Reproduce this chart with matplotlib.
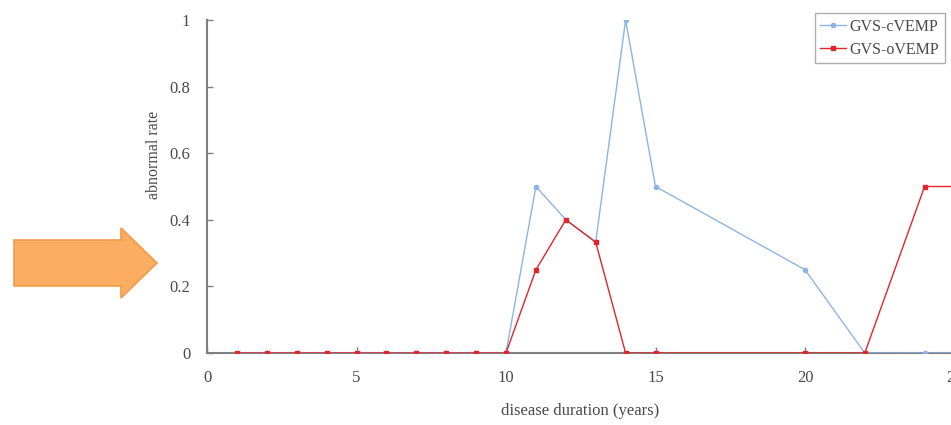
import matplotlib.pyplot as plt
from matplotlib.patches import FancyArrow

# --- data ---
years_c = [1, 2, 3, 4, 5, 6, 7, 8, 9, 10, 11, 12, 13, 14, 15, 20, 22, 24, 25]
rate_c = [0, 0, 0, 0, 0, 0, 0, 0, 0, 0, 0.5, 0.4, 0.333, 1.0, 0.5, 0.25, 0, 0, 0]

years_o = [1, 2, 3, 4, 5, 6, 7, 8, 9, 10, 11, 12, 13, 14, 15, 20, 22, 24, 25]
rate_o = [0, 0, 0, 0, 0, 0, 0, 0, 0, 0, 0.25, 0.4, 0.333, 0, 0, 0, 0, 0.5, 0.5]

y_ticks = [0, 0.2, 0.4, 0.6, 0.8, 1]
y_tick_labels = ["0", "0.2", "0.4", "0.6", "0.8", "1"]
x_ticks = [0, 5, 10, 15, 20, 25]

plt.rcParams['font.family'] = ['Liberation Serif', 'DejaVu Serif']

W, H = 951, 425
fig = plt.figure(figsize=(W / 100, H / 100), dpi=100)

# axes extends past the right edge (the reference is cropped there)
left_px, right_px = 207, 207 + 30 * 29.9
top_px, bottom_px = 20, 353
ax = fig.add_axes([left_px / W, 1 - bottom_px / H,
                   (right_px - left_px) / W, (bottom_px - top_px) / H])

blue = '#8db4e6'
red = '#e0262b'
ax.plot(years_c, rate_c, '-o', color=blue, lw=1.0, ms=3, label='GVS-cVEMP', zorder=3)
ax.plot(years_o, rate_o, '-s', color=red, lw=1.0, ms=3.5, label='GVS-oVEMP', zorder=4)

ax.set_xlim(0, 30)
ax.set_ylim(0, 1)
ax.set_xticks(x_ticks)
ax.set_yticks(y_ticks)
ax.set_yticklabels(y_tick_labels)

for s in ['top', 'right']:
    ax.spines[s].set_visible(False)
for s in ['left', 'bottom']:
    ax.spines[s].set_color('#7f7f7f')
    ax.spines[s].set_linewidth(1.5)
    ax.spines[s].set_zorder(2)
ax.spines['bottom'].set_position(('data', 0))

ax.tick_params(axis='both', direction='in', length=4, width=1, color='#7f7f7f',
               labelsize=12, labelcolor='#4a4a4a')
ax.tick_params(axis='x', pad=12)
ax.tick_params(axis='y', pad=12)

ax.set_xlabel('disease duration (years)', fontsize=12, color='#4a4a4a')
ax.xaxis.set_label_coords((580 - left_px) / (right_px - left_px), -(403 - bottom_px) / (bottom_px - top_px))
ax.set_ylabel('abnormal rate', fontsize=11.5, color='#4a4a4a')
ax.yaxis.set_label_coords((162 - left_px) / (right_px - left_px), (bottom_px - 155) / (bottom_px - top_px))

fig.legend(loc='upper right', bbox_to_anchor=(945 / W, 1 - 13 / H), borderaxespad=0,
           fontsize=11.5, frameon=True, fancybox=False, edgecolor='#999999',
           handlelength=1.6, handletextpad=0.25, borderpad=0.35, labelspacing=0.45,
           labelcolor='#4a4a4a')

# orange arrow at the left
arrow = FancyArrow(14 / W, 1 - 263 / H, (157 - 14) / W, 0, width=46 / H,
                   head_width=70 / H, head_length=36 / W, length_includes_head=True,
                   transform=fig.transFigure, facecolor='#fbae62', edgecolor='#f59a48',
                   linewidth=1.2)
fig.patches.append(arrow)

fig.savefig('out.png', dpi=100)
